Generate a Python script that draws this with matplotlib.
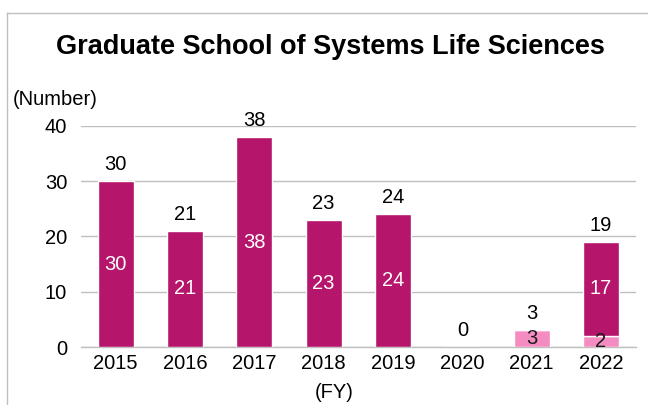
import matplotlib
matplotlib.use('Agg')
import matplotlib.pyplot as plt
from matplotlib.lines import Line2D
import numpy as np

plt.rcParams['font.family'] = ['Liberation Sans', 'DejaVu Sans']

# Datos
years = ['2015', '2016', '2017', '2018', '2019', '2020', '2021', '2022']
light_vals = [0, 0, 0, 0, 0, 0, 3, 2]
dark_vals = [30, 21, 38, 23, 24, 0, 0, 17]
totals = [a + b for a, b in zip(light_vals, dark_vals)]

DARK = '#B5156B'
LIGHT = '#F48CC2'
GRID = '#BFBFBF'
FS = 14.5

fig = plt.figure(figsize=(6.48, 4.05), dpi=100)
ax = fig.add_axes([0.125, 0.1432, 0.856, 0.5457])

x = np.arange(len(years))
w = 0.52
ax.bar(x, light_vals, w, color=LIGHT, edgecolor='white', linewidth=1, zorder=3)
ax.bar(x, dark_vals, w, bottom=light_vals, color=DARK, edgecolor='white',
       linewidth=1, zorder=3)

# Rótulos dentro das barras
for i in range(len(years)):
    if light_vals[i] > 0:
        ax.text(x[i], light_vals[i] / 2, str(light_vals[i]), ha='center', va='center',
                fontsize=FS, color='#1a1a1a', zorder=4)
    if dark_vals[i] > 0:
        ax.text(x[i], light_vals[i] + dark_vals[i] / 2, str(dark_vals[i]), ha='center',
                va='center', fontsize=FS, color='white', zorder=4)
    ax.annotate(str(totals[i]), (x[i], totals[i]), xytext=(0, 8), textcoords='offset points',
                ha='center', va='baseline', fontsize=FS, color='black')

ax.set_xlim(-0.5, len(years) - 0.5)
ax.set_ylim(0, 40)
ax.set_yticks([0, 10, 20, 30, 40])
ax.set_xticks(x)
ax.set_xticklabels(years)
ax.tick_params(length=0, labelsize=FS, pad=5)
ax.tick_params(axis='y', pad=10)
ax.yaxis.grid(True, color=GRID, linewidth=1, zorder=0)
for s in ['top', 'right', 'left']:
    ax.spines[s].set_visible(False)
ax.spines['bottom'].set_color(GRID)
ax.spines['bottom'].set_linewidth(1)

fig.text(0.51, 0.883, 'Graduate School of Systems Life Sciences', ha='center', va='center',
         fontsize=19.5, fontweight='bold')
fig.text(0.02, 0.755, '(Number)', ha='left', va='center', fontsize=FS)
fig.text(0.515, 0.03, '(FY)', ha='center', va='center', fontsize=FS)

# Moldura
fig.add_artist(Line2D([0.011, 1.0], [0.968, 0.968], color=GRID, lw=1))
fig.add_artist(Line2D([0.011, 0.011], [0.0, 0.968], color=GRID, lw=1))

fig.savefig('out.png', dpi=100)
